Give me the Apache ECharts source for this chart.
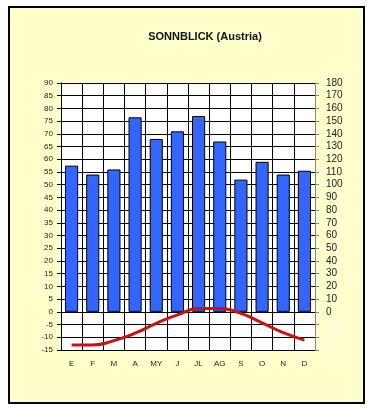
<!DOCTYPE html>
<html>
<head>
<meta charset="utf-8">
<script src="https://cdn.jsdelivr.net/npm/echarts@6/dist/echarts.min.js"></script>
<style>
html,body{margin:0;padding:0;background:#fff;}
#c{width:375px;height:411px;}
</style>
</head>
<body>
<div id="c"></div>
<script>
const months = ['E','F','M','A','MY','J','JL','AG','S','O','N','D'];
const precipitation = [115, 108, 112, 153, 136, 142, 154, 134, 104, 118, 108, 111];
const temperature = [-13.0, -13.0, -11.3, -8.4, -4.5, -1.2, 1.3, 1.3, -0.6, -4.3, -8.2, -11.1];
const titleText = 'SONNBLICK (Austria)';

const chart = echarts.init(document.getElementById('c'), null, {renderer: 'canvas'});
const labelFont = {fontFamily: 'Liberation Sans, Arial, sans-serif', fontSize: 8, color: '#222'};
chart.setOption({
  animation: false,
  backgroundColor: '#ffffff',
  graphic: [{
    type: 'rect',
    z: -100,
    silent: true,
    shape: {x: 9, y: 7, width: 355, height: 396},
    style: {fill: '#ffffcc', stroke: '#000', lineWidth: 2}
  }],
  title: {
    text: titleText,
    left: 200,
    textAlign: 'center',
    top: 26,
    textStyle: {fontFamily: 'Liberation Sans, Arial, sans-serif', fontSize: 11, fontWeight: 'bold', color: '#111'}
  },
  grid: {
    left: 61, right: 60, top: 83, bottom: 61,
    show: true, backgroundColor: '#ffffff', borderWidth: 0
  },
  xAxis: {
    type: 'category',
    data: months,
    boundaryGap: true,
    axisLine: {show: true, lineStyle: {color: '#000', width: 1}},
    axisTick: {show: false},
    axisLabel: Object.assign({margin: 10}, labelFont),
    splitLine: {show: true, lineStyle: {color: '#000', width: 1}}
  },
  yAxis: [{
    type: 'value',
    min: -15, max: 90, interval: 5,
    position: 'left',
    axisLine: {show: true, lineStyle: {color: '#000', width: 1}},
    axisTick: {show: true, length: 4, lineStyle: {color: '#000'}},
    axisLabel: Object.assign({margin: 8}, labelFont),
    splitLine: {show: true, lineStyle: {color: '#000', width: 1}}
  }, {
    type: 'value',
    min: -30, max: 180, interval: 10,
    position: 'right',
    axisLine: {show: true, lineStyle: {color: '#888', width: 1}},
    axisTick: {show: true, length: 4, lineStyle: {color: '#888'}},
    axisLabel: Object.assign({}, labelFont, {
      margin: 11,
      fontSize: 10,
      color: function (v) { return v < 0 ? '#fbfbee' : '#222'; }
    }),
    splitLine: {show: false}
  }],
  series: [{
    type: 'bar',
    yAxisIndex: 1,
    data: precipitation,
    barWidth: '62%',
    itemStyle: {color: '#3366ff', borderColor: '#000', borderWidth: 1}
  }, {
    type: 'line',
    yAxisIndex: 0,
    data: temperature,
    smooth: 0.5,
    symbol: 'none',
    lineStyle: {color: '#cc1111', width: 3}
  }]
});
</script>
</body>
</html>
